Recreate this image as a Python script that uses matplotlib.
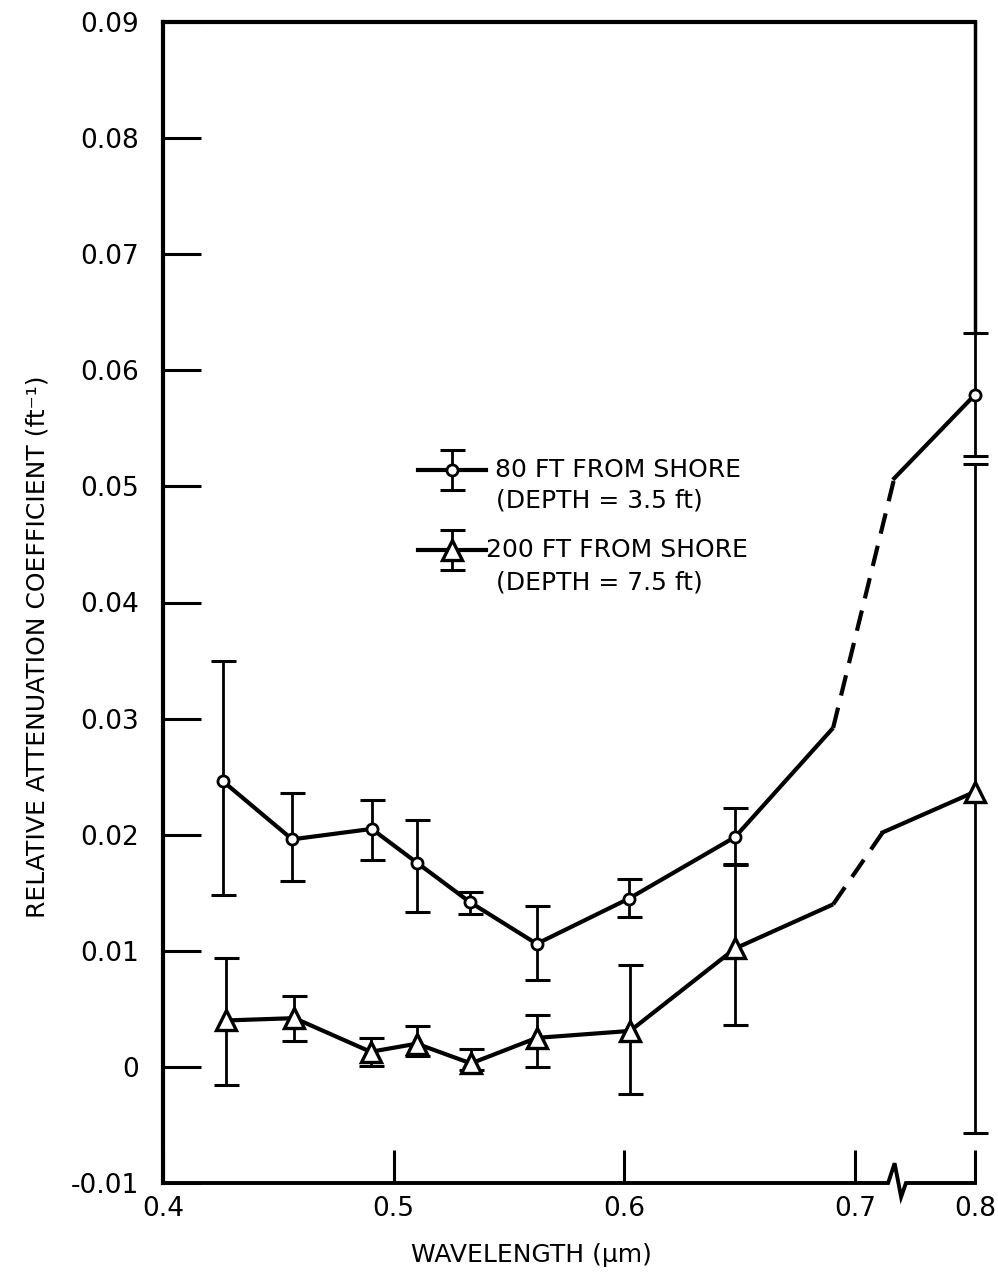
"""
Relative attenuation coefficient vs wavelength, two stations off shore.
Line-art style replot of an old report figure.
"""
import matplotlib
matplotlib.use('Agg')
import matplotlib.pyplot as plt
import matplotlib.ticker as mticker
import numpy as np

plt.rcParams['font.family'] = ['DejaVu Sans']
plt.rcParams['axes.unicode_minus'] = False

INK = 'black'

# ── data ──
wl_80 = [0.426, 0.456, 0.4905, 0.510, 0.533, 0.562, 0.602, 0.648, 0.800]
k_80 = [0.0246, 0.0196, 0.0205, 0.0176, 0.0142, 0.0106, 0.0145, 0.0198, 0.0579]
hi_80 = [0.0350, 0.0236, 0.0230, 0.0213, 0.0151, 0.0139, 0.0162, 0.0223, 0.0632]
lo_80 = [0.0148, 0.0160, 0.0178, 0.0133, 0.0132, 0.0075, 0.0129, 0.0174, 0.0526]

wl_200 = [0.4275, 0.457, 0.490, 0.510, 0.5335, 0.562, 0.6025, 0.648, 0.800]
k_200 = [0.0040, 0.0042, 0.0013, 0.0020, 0.0003, 0.0025, 0.0031, 0.0102, 0.0237]
hi_200 = [0.0094, 0.0061, 0.0025, 0.0035, 0.0015, 0.0045, 0.0088, 0.0175, 0.0519]
lo_200 = [-0.0016, 0.0022, 0.0001, 0.0009, -0.0003, 0.0000, -0.0023, 0.0036, -0.0057]

# dashed bridge across the axis break (start, end of the dashed piece)
bridge_wl_80 = [0.6905, 0.717]
bridge_k_80 = [0.0292, 0.0507]
bridge_wl_200 = [0.6905, 0.712]
bridge_k_200 = [0.0140, 0.0202]

x_ticks = [0.4, 0.5, 0.6, 0.7, 0.8]
y_ticks = [-0.01, 0.0, 0.01, 0.02, 0.03, 0.04, 0.05, 0.06, 0.07, 0.08, 0.09]

label_80 = '80 FT FROM SHORE'
depth_80 = '(DEPTH = 3.5 ft)'
label_200 = '200 FT FROM SHORE'
depth_200 = '(DEPTH = 7.5 ft)'

# ── broken x axis: squeeze everything past the break ──
BREAK = 0.72
SQUEEZE = 0.4


def fwd(x):
    x = np.asarray(x, dtype=float)
    return np.where(x <= BREAK, x, BREAK + (x - BREAK) * SQUEEZE)


def inv(x):
    x = np.asarray(x, dtype=float)
    return np.where(x <= BREAK, x, BREAK + (x - BREAK) / SQUEEZE)


W, H = 998, 1279
fig = plt.figure(figsize=(W / 100, H / 100), dpi=100)
fig.patch.set_facecolor('white')
ax = fig.add_axes([163 / W, (H - 1183) / H, 812 / W, 1161 / H])
ax.set_xscale('function', functions=(fwd, inv))
ax.set_xlim(0.4, 0.8)
ax.set_ylim(-0.01, 0.09)

LW = 3.0


def draw_series(wl, k, lo, hi, bwl, bk, marker, msize, mew):
    err = [np.array(k) - np.array(lo), np.array(hi) - np.array(k)]
    eb = ax.errorbar(wl, k, yerr=err, fmt='none', ecolor=INK, elinewidth=2.0,
                     capsize=9, capthick=2.2, zorder=2)
    for art in eb.get_children():
        art.set_clip_on(False)
    # solid up to the bridge, dashed across it, solid to the last point
    ax.plot(wl[:-1] + bwl[:1], k[:-1] + bk[:1], color=INK, lw=LW,
            solid_capstyle='butt', zorder=3)
    ax.plot(bwl, bk, color=INK, lw=LW, linestyle=(0, (5, 3)), zorder=3)
    ax.plot(bwl[1:] + wl[-1:], bk[1:] + k[-1:], color=INK, lw=LW, zorder=3)
    ax.plot(wl, k, linestyle='none', marker=marker, markersize=msize,
            markerfacecolor='white', markeredgecolor=INK,
            markeredgewidth=mew, zorder=4, clip_on=False)


draw_series(wl_80, k_80, lo_80, hi_80, bridge_wl_80, bridge_k_80, 'o', 8, 2.0)
draw_series(wl_200, k_200, lo_200, hi_200, bridge_wl_200, bridge_k_200, '^', 15, 2.4)

# ── frame ──
for side in ['left', 'top']:
    ax.spines[side].set_linewidth(3)
ax.spines['right'].set_linewidth(2.5)
ax.spines['right'].set_bounds(0.0632, 0.09)
ax.spines['bottom'].set_visible(False)
# bottom axis drawn by hand with the zigzag break
ax.plot([0, 0.893, 0.901, 0.909, 0.915, 1.0], [0, 0, 0.017, -0.012, 0, 0],
        transform=ax.transAxes, color=INK, lw=2.8, clip_on=False,
        solid_joinstyle='miter', zorder=5)

ax.set_xticks(x_ticks)
ax.xaxis.set_major_formatter(mticker.FixedFormatter(['0.4', '0.5', '0.6', '0.7', '0.8']))
ax.xaxis.set_minor_locator(mticker.NullLocator())
ax.set_yticks(y_ticks)
ax.yaxis.set_major_formatter(mticker.FuncFormatter(
    lambda v, _: '0' if abs(v) < 1e-9 else f'{v:.2f}'))
ax.tick_params(axis='y', direction='in', length=27, width=2.2, pad=17,
               labelsize=19, colors=INK, right=False)
ax.tick_params(axis='x', direction='in', length=24, width=2.2, pad=9,
               labelsize=19, colors=INK, top=False)

ax.set_ylabel('RELATIVE ATTENUATION COEFFICIENT (ft\u207b\u00b9)', fontsize=18, color=INK)
ax.yaxis.set_label_coords(-0.14, 0.462)
ax.set_xlabel('WAVELENGTH (\u03bcm)', fontsize=18, color=INK)
ax.xaxis.set_label_coords(0.454, -0.052)

# ── hand-built legend ──
def legend_handle(xc, yc, marker, msize, mew):
    ax.plot([xc - 0.042, xc + 0.042], [yc, yc], transform=ax.transAxes,
            color=INK, lw=LW)
    ax.plot([xc, xc], [yc - 0.0172, yc + 0.0172], transform=ax.transAxes,
            color=INK, lw=2.0)
    ax.plot([xc, xc], [yc - 0.0172, yc + 0.0172], transform=ax.transAxes,
            linestyle='none', marker='_', markersize=18, markeredgewidth=2.2,
            color=INK)
    ax.plot([xc], [yc], transform=ax.transAxes, marker=marker,
            markersize=msize, markerfacecolor='white', markeredgecolor=INK,
            markeredgewidth=mew, linestyle='none', zorder=4)


legend_handle(0.356, 0.614, 'o', 8, 2.0)
legend_handle(0.356, 0.545, '^', 15, 2.4)
ax.text(0.409, 0.614, label_80, transform=ax.transAxes, fontsize=18,
        ha='left', va='center', color=INK)
ax.text(0.537, 0.588, depth_80, transform=ax.transAxes, fontsize=18,
        ha='center', va='center', color=INK)
ax.text(0.398, 0.545, label_200, transform=ax.transAxes, fontsize=18,
        ha='left', va='center', color=INK)
ax.text(0.537, 0.517, depth_200, transform=ax.transAxes, fontsize=18,
        ha='center', va='center', color=INK)

fig.savefig('out.png', dpi=100, facecolor='white')
plt.close(fig)
